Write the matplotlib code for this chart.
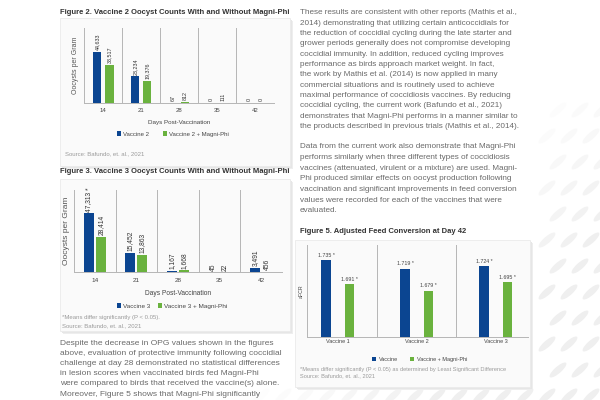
import matplotlib
matplotlib.use("Agg")
from matplotlib import pyplot as plt
from matplotlib.patches import Rectangle, Ellipse
import numpy as np

plt.rcParams['font.family'] = ['Liberation Sans', 'DejaVu Sans']

# ---- data ----
days = ["14", "21", "28", "35", "42"]
vac2 = [44633, 23234, 67, 0, 0]
vac2_mp = [33517, 19376, 812, 111, 0]
vac3 = [47313, 15452, 1167, 45, 3491]
vac3_mp = [28414, 13863, 1668, 22, 456]
vac3_sig = ["*", "", "", "", ""]

vaccines = ["Vaccine 1", "Vaccine 2", "Vaccine 3"]
fcr_vac = [1.735, 1.719, 1.724]
fcr_mp = [1.691, 1.679, 1.695]

para_right_1 = [
    "These results are consistent with other reports (Mathis et al.,",
    "2014) demonstrating that utilizing certain anticoccidials for",
    "the reduction of coccidial cycling during the late starter and",
    "grower periods generally does not compromise developing",
    "coccidial immunity. In addition, reduced cycling improves",
    "performance as birds approach market weight. In fact,",
    "the work by Mathis et al. (2014) is now applied in many",
    "commercial situations and is routinely used to achieve",
    "maximal performance of coccidiosis vaccines. By reducing",
    "coccidial cycling, the current work (Bafundo et al., 2021)",
    "demonstrates that Magni-Phi performs in a manner similar to",
    "the products described in previous trials (Mathis et al., 2014).",
]
para_right_2 = [
    "Data from the current work also demonstrate that Magni-Phi",
    "performs similarly when three different types of coccidiosis",
    "vaccines (attenuated, virulent or a mixture) are used. Magni-",
    "Phi produced similar effects on oocyst production following",
    "vaccination and significant improvements in feed conversion",
    "values were recorded for each of the vaccines that were",
    "evaluated.",
]
para_left = [
    "Despite the decrease in OPG values shown in the figures",
    "above, evaluation of protective immunity following coccidial",
    "challenge at day 28 demonstrated no statistical differences",
    "in lesion scores when vaccinated birds fed Magni-Phi",
    "were compared to birds that received the vaccine(s) alone.",
    "Moreover, Figure 5 shows that Magni-Phi significantly",
]

BLUE = "#0b4591"
GREEN = "#6ab23e"
BODY = "#6a6a6a"
TITLE = "#333333"
W, H = 600, 400

fig = plt.figure(figsize=(6, 4), dpi=100)
fig.patch.set_facecolor("white")


def fx(x):
    return x / W


def fy(y):
    return 1 - y / H


def add_ax(x0, y0, x1, y1):
    return fig.add_axes([fx(x0), fy(y1), (x1 - x0) / W, (y1 - y0) / H])


def ftext(x, y, s, **kw):
    kw.setdefault("va", "center")
    return fig.text(fx(x), fy(y), s, **kw)


def panel(x0, y0, x1, y1):
    # soft shadow + light panel
    for k, c in [(3, "#eeeeee"), (2, "#e6e6e6"), (1, "#dedede")]:
        fig.patches.append(Rectangle((fx(x0 + k), fy(y1 + k)), (x1 - x0) / W, (y1 - y0) / H,
                                     transform=fig.transFigure, fc=c, ec="none", zorder=-3))
    fig.patches.append(Rectangle((fx(x0), fy(y1)), (x1 - x0) / W, (y1 - y0) / H,
                                 transform=fig.transFigure, fc="#fafafa", ec="#ebebeb",
                                 lw=0.6, zorder=-2))


# decorative background ovals (bottom right of page)
for gx in np.arange(250, 620, 22):
    for gy in np.arange(110, 420, 26):
        off = 11 if int((gy - 110) / 26) % 2 else 0
        x = gx + off
        if x < 537 and gy < 392:
            continue
        a = min(1.0, max(0.0, (x + gy - 640) / 200))
        if a <= 0:
            continue
        fig.patches.append(Ellipse((fx(x), fy(gy)), 8 / W, 18 / H, angle=-35,
                                   transform=fig.transFigure, fc="#efefef",
                                   ec="none", alpha=a, zorder=-4))

panel(60, 18, 290, 166)
panel(60, 179, 290, 331)
panel(295, 240, 530, 387)

# ---- titles ----
ftext(60, 12, "Figure 2. Vaccine 2 Oocyst Counts With and Without Magni-Phi",
      fontsize=5.5, fontweight="bold", color=TITLE)
ftext(60, 172, "Figure 3. Vaccine 3 Oocyst Counts With and Without Magni-Phi",
      fontsize=5.5, fontweight="bold", color=TITLE)
ftext(300, 232, "Figure 5. Adjusted Feed Conversion at Day 42",
      fontsize=5.5, fontweight="bold", color=TITLE)

# ---- body text ----
for i, line in enumerate(para_right_1):
    ftext(300, 12.7 + i * 10.36, line, fontsize=5.85, color=BODY)
for i, line in enumerate(para_right_2):
    ftext(300, 146.7 + i * 10.67, line, fontsize=5.85, color=BODY)
for i, line in enumerate(para_left):
    ftext(60, 343.3 + i * 10.15, line, fontsize=6.0, color=BODY)


def opg_chart(ax, a, b, names, sig, fs_val, fs_lab, w, sp):
    x = np.arange(len(a))
    ax.set_facecolor("none")
    ax.bar(x - sp / 2, a, w, color=BLUE, label=names[0], zorder=3)
    ax.bar(x + sp / 2, b, w, color=GREEN, label=names[1], zorder=3)
    top = 66000
    for i in range(len(x)):
        ax.text(x[i] - sp / 2, a[i] + top * 0.02, f"{a[i]:,}" + (" " + sig[i] if sig[i] else ""),
                rotation=90, ha="center", va="bottom", fontsize=fs_val, color="#333333")
        ax.text(x[i] + sp / 2, b[i] + top * 0.02, f"{b[i]:,}",
                rotation=90, ha="center", va="bottom", fontsize=fs_val, color="#333333")
    for v in np.arange(-0.5, len(x), 1):
        ax.axvline(v, color="#b5b5b5", lw=0.7, zorder=1)
    ax.set_xlim(-0.5, len(x) - 0.5)
    ax.set_ylim(0, top)
    ax.set_xticks(x)
    ax.set_xticklabels(days, fontsize=fs_lab, color="#444444")
    ax.set_yticks([])
    ax.tick_params(axis="x", length=0, pad=4)
    for s in ["top", "right", "left"]:
        ax.spines[s].set_visible(False)
    ax.spines["bottom"].set_color("#b5b5b5")
    ax.spines["bottom"].set_linewidth(0.7)


# ---- Figure 2 ----
ax2 = add_ax(84.3, 27.7, 274, 102.7)
opg_chart(ax2, vac2, vac2_mp, ["Vaccine 2", "Vaccine 2 + Magni-Phi"],
          [""] * 5, 3.9, 4.3, 0.22, 0.32)
ax2.set_xlabel("Days Post-Vaccination", fontsize=4.5, color="#444444", labelpad=5)
ax2.set_ylabel("Oocysts per Gram", fontsize=5.0, color="#555555", labelpad=4)
ax2.legend(loc="center", bbox_to_anchor=(fx(173), fy(134)), bbox_transform=fig.transFigure,
           ncol=2, frameon=False, fontsize=4.3, handlelength=0.7, handleheight=0.7,
           handletextpad=0.4, columnspacing=2.2, labelcolor="#444444")
ftext(65, 154, "Source: Bafundo, et. al., 2021", fontsize=4.3, color="#9a9a9a")

# ---- Figure 3 ----
ax3 = add_ax(74, 190, 281.7, 272.3)
opg_chart(ax3, vac3, vac3_mp, ["Vaccine 3", "Vaccine 3 + Magni-Phi"],
          vac3_sig, 4.8, 4.6, 0.24, 0.29)
ax3.set_xlabel("Days Post-Vaccination", fontsize=4.8, color="#444444", labelpad=5)
ax3.set_ylabel("Oocysts per Gram", fontsize=6.0, color="#555555", labelpad=3)
ax3.legend(loc="center", bbox_to_anchor=(fx(172), fy(306)), bbox_transform=fig.transFigure,
           ncol=2, frameon=False, fontsize=4.6, handlelength=0.7, handleheight=0.7,
           handletextpad=0.3, columnspacing=1.2, labelcolor="#444444")
ftext(62, 317.7, "*Means differ significantly (P < 0.05).", fontsize=4.3, color="#9a9a9a")
ftext(62, 325.7, "Source: Bafundo, et. al., 2021", fontsize=4.3, color="#9a9a9a")

# ---- Figure 5 ----
ax5 = add_ax(306.7, 245, 528.3, 336.7)
ax5.set_facecolor("none")
xv = np.arange(len(vaccines))
ax5.bar(xv - 0.15, fcr_vac, 0.118, color=BLUE, label="Vaccine", zorder=3)
ax5.bar(xv + 0.15, fcr_mp, 0.118, color=GREEN, label="Vaccine + Magni-Phi", zorder=3)
for i in range(len(xv)):
    ax5.text(xv[i] - 0.15, fcr_vac[i] + 0.004, f"{fcr_vac[i]:.3f} *", ha="center", va="bottom",
             fontsize=3.8, color="#444444")
    ax5.text(xv[i] + 0.15, fcr_mp[i] + 0.004, f"{fcr_mp[i]:.3f} *", ha="center", va="bottom",
             fontsize=3.8, color="#444444")
for v in [-0.396, 0.5, 1.5, 2.41]:
    ax5.axvline(v, color="#b5b5b5", lw=0.7, zorder=1)
ax5.set_xlim(-0.396, 2.41)
ax5.set_ylim(1.595, 1.762)
ax5.set_xticks(xv)
ax5.set_xticklabels(vaccines, fontsize=4.0, color="#444444")
ax5.tick_params(axis="x", length=0, pad=2)
ax5.set_yticks([])
ax5.set_ylabel("aFCR", fontsize=3.8, color="#444444", labelpad=2)
for s in ["top", "right", "left"]:
    ax5.spines[s].set_visible(False)
ax5.spines["bottom"].set_color("#b5b5b5")
ax5.spines["bottom"].set_linewidth(0.7)
ax5.legend(loc="center", bbox_to_anchor=(fx(420), fy(359.5)), bbox_transform=fig.transFigure,
           ncol=2, frameon=False, fontsize=4.0, handlelength=0.7, handleheight=0.7,
           handletextpad=0.5, columnspacing=2.2, labelcolor="#444444")
ftext(300, 369, "*Means differ significantly (P < 0.05) as determined by Least Significant Difference",
      fontsize=4.1, color="#9a9a9a")
ftext(300, 375.7, "Source: Bafundo, et. al., 2021", fontsize=4.1, color="#9a9a9a")

fig.savefig("out.png", dpi=100)
